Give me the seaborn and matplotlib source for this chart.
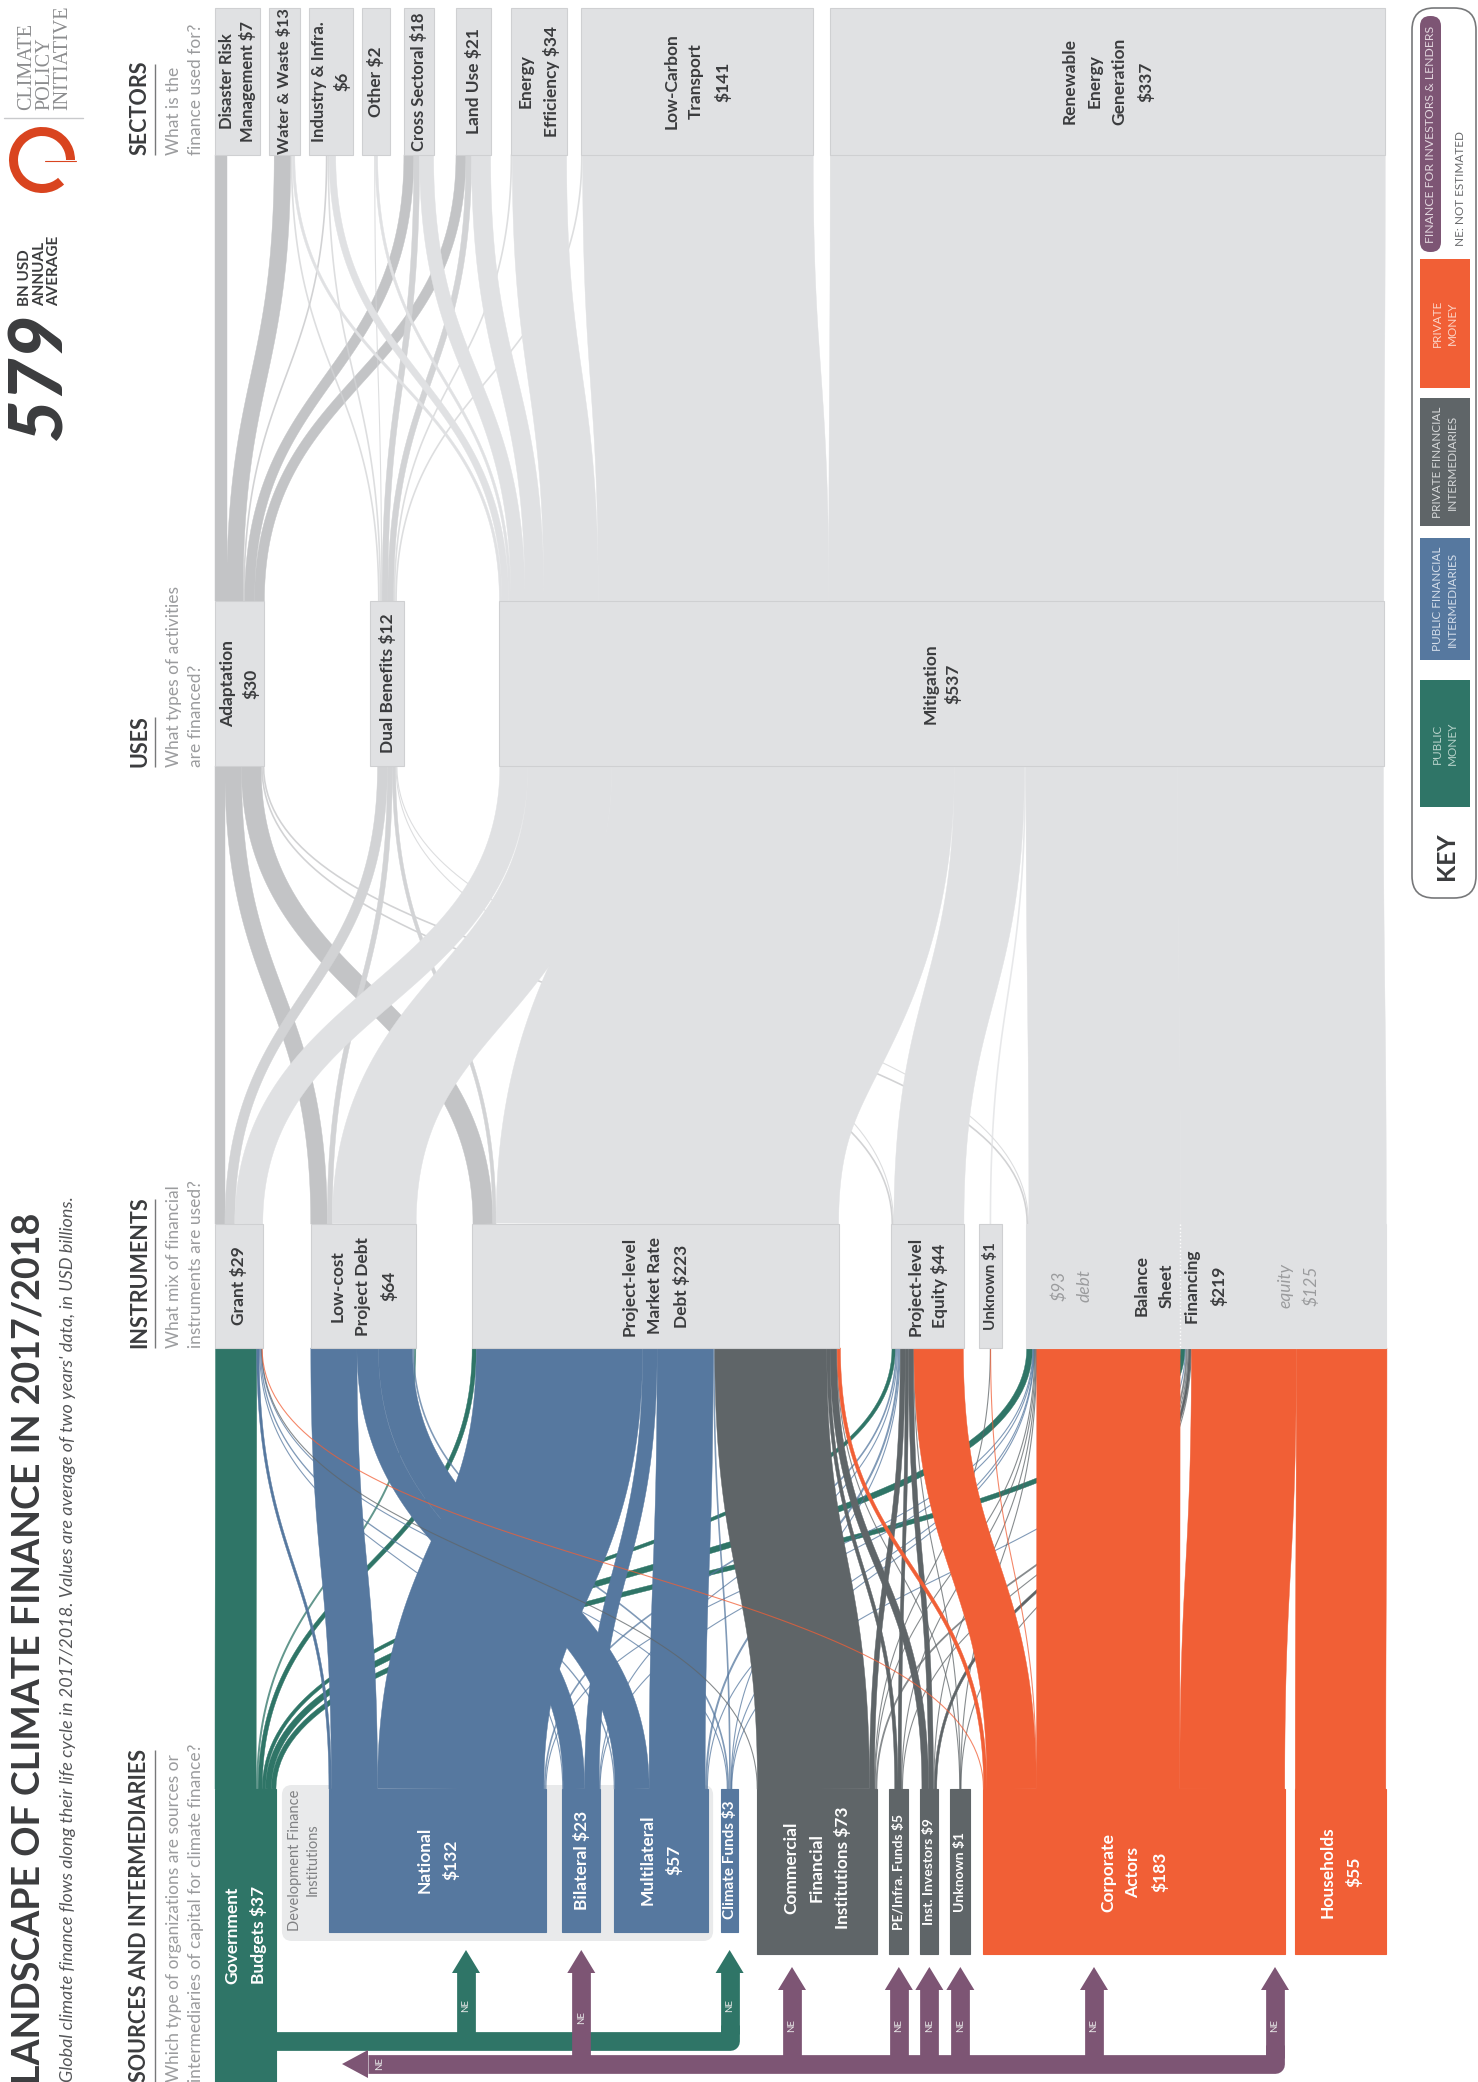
import numpy as np
import pandas as pd
import matplotlib
matplotlib.use("Agg")
import matplotlib.pyplot as plt
from matplotlib.patches import FancyBboxPatch, Rectangle, Wedge, Polygon
import seaborn as sns

# --- data, USD bn ---
SOURCES = ['Gov', 'National', 'Bilateral', 'Multilateral', 'ClimateFunds', 'Commercial',
           'PE', 'Inst', 'UnknownSrc', 'Corporate', 'Households']
SOURCE_VALUES = [37, 132, 23, 57, 3, 73, 5, 9, 1, 183, 55]

INSTRUMENTS = ['Grant', 'LowCost', 'Market', 'Equity', 'UnknownIns', 'BalDebt', 'BalEq']
INSTRUMENT_VALUES = [29, 64, 223, 44, 1, 93.5, 125]

USES = ['Adaptation', 'Dual', 'Mitigation']
USE_VALUES = [30, 12, 537]

SECTORS = ['DRM', 'Water', 'Industry', 'Other', 'Cross', 'Land', 'EE', 'Transport', 'Renewable']
SECTOR_VALUES = [7, 13, 6, 2, 18, 21, 34, 141, 337]

# source -> instrument, same order as INSTRUMENTS
GOV_TO = [25, 1.2, 2.5, 2, 0, 3.5, 2.8]
NATIONAL_TO = [1.5, 28, 101, 1, 0, 0.5, 0]
BILATERAL_TO = [0.5, 13, 8.8, 0.5, 0, 0.2, 0]
MULTILATERAL_TO = [0.8, 20.7, 34, 1.2, 0, 0.3, 0]
CLIMATE_FUNDS_TO = [0.2, 1, 1, 0.3, 0, 0.1, 0.4]
COMMERCIAL_TO = [0.2, 0, 68, 3, 0.2, 0.5, 1.1]
PE_TO = [0, 0, 2, 2, 0, 0.4, 0.6]
INST_TO = [0, 0, 4, 3, 0, 0.5, 1.5]
UNKNOWN_TO = [0, 0, 0.3, 0.3, 0, 0.1, 0.3]
CORPORATE_TO = [0.2, 0, 2, 30, 0.1, 87, 63.7]
HOUSEHOLDS_TO = [0, 0, 0, 0, 0, 0, 55]

# use <- instrument, same order as INSTRUMENTS
ADAPTATION_FROM = [6, 10, 12, 1, 0, 1, 0]
DUAL_FROM = [6, 3, 2, 0.5, 0, 0.5, 0]
MITIGATION_FROM = [17, 51, 208, 42.5, 1, 92, 125]

# use -> sector, same order as SECTORS
ADAPTATION_TO = [7, 10, 1, 0, 6, 6, 0, 0, 0]
DUAL_TO = [0, 1, 1, 0.5, 3.5, 3.5, 1, 1, 0]
MITIGATION_TO = [0, 1.5, 4, 1.5, 8.5, 11.5, 33, 140, 337]

NE_GREEN = ['National', 'ClimateFunds']
NE_PURPLE = ['Bilateral', 'Commercial', 'PE', 'Inst', 'UnknownSrc', 'Corporate', 'Households']

SECTOR_LABELS = ['Disaster Risk\nManagement $7', 'Water & Waste $13', 'Industry & Infra.\n$6', 'Other $2',
                 'Cross Sectoral $18', 'Land Use $21', 'Energy\nEfficiency $34', 'Low-Carbon\nTransport\n$141',
                 'Renewable\nEnergy\nGeneration\n$337']
USE_LABELS = ['Adaptation\n$30', 'Dual Benefits $12', 'Mitigation\n$537']
INSTRUMENT_LABELS = ['Grant $29', 'Low-cost\nProject Debt\n$64', 'Project-level\nMarket Rate\nDebt $223',
                     'Project-level\nEquity $44', 'Unknown $1']
SOURCE_LABELS = ['Government\nBudgets $37', 'National\n$132', 'Bilateral $23', 'Multilateral\n$57',
                 'Climate Funds $3', 'Commercial\nFinancial\nInstitutions $73', 'PE/Infra. Funds $5',
                 'Inst. Investors $9', 'Unknown $1', 'Corporate\nActors\n$183', 'Households\n$55']
KEY_LABELS = ['PUBLIC\nMONEY', 'PUBLIC FINANCIAL\nINTERMEDIARIES', 'PRIVATE FINANCIAL\nINTERMEDIARIES',
              'PRIVATE\nMONEY']

# --- layout, px ---
SCALE = 1.647
LEFT = 215
SOURCE_GAPS = [0, 53, 16, 13.5, 13.5, 19, 12, 12, 12, 13, 10.5]
SOURCE_MIN = {'ClimateFunds': 17, 'PE': 19, 'Inst': 18, 'UnknownSrc': 20}
INSTR_GAPS = [0, 48, 56, 52, 15, 24.5, 0]
INSTR_MIN = {'UnknownIns': 23}
USE_GAPS = [0, 106, 95]
USE_MIN = {'Dual': 34}
SECTOR_GAPS = [0, 9, 9, 9.5, 13.5, 22, 20, 14.4, 17]
SECTOR_MIN = {'DRM': 45, 'Water': 31, 'Industry': 43.5, 'Other': 28, 'Cross': 30.5}
NE_X = {'National': 466, 'Commercial': 792, 'Corporate': 1094, 'Households': 1275}

GREEN = '#2f7567'
BLUE = '#56789f'
GRAY = '#5f6568'
ORANGE = '#f15f36'
PURPLE = '#7d5574'
BOX = '#e0e1e3'
BOX_EDGE = '#cfd0d2'
DARK = '#c3c4c6'
MID = '#d2d3d5'
INK = '#3b3c3e'
SOFT = '#9b9c9e'
SOURCE_COLORS = [GREEN, BLUE, BLUE, BLUE, BLUE, GRAY, GRAY, GRAY, GRAY, ORANGE, ORANGE]

Y_SRC_TOP, Y_INS_BOT, Y_INS_TOP, Y_USE_BOT, Y_USE_TOP, Y_SEC_BOT, Y_SEC_TOP = 1789, 1348, 1224, 766, 601, 155, 8


def place(names, values, gaps, mins):
    out, x = {}, LEFT
    for name, v, g in zip(names, values, gaps):
        x += g
        w = max(v * SCALE, mins.get(name, 0))
        out[name] = (x, w)
        x += w
    return out


def path(ax, xs, ys, color, width, zorder=4, **kw):
    line = pd.DataFrame({'x': xs, 'y': ys})
    sns.lineplot(data=line, x='x', y='y', color=color, linewidth=width, estimator=None, sort=False,
                 errorbar=None, legend=False, ax=ax, zorder=zorder, **kw)


def ribbon(ax, x0, x1, w, y0, y1, color, zorder):
    t = np.linspace(0, 1, 90)
    ym = (y0 + y1) / 2
    cx = (1 - t) ** 3 * x0 + 3 * (1 - t) ** 2 * t * x0 + 3 * (1 - t) * t ** 2 * x1 + t ** 3 * x1
    cy = (1 - t) ** 3 * y0 + 3 * (1 - t) ** 2 * t * ym + 3 * (1 - t) * t ** 2 * ym + t ** 3 * y1
    if w < 2.2:
        # hairline flows go through seaborn directly
        path(ax, cx, cy, color, max(w, 1.1) * 0.72, zorder=zorder, alpha=0.75)
        return
    dx, dy = np.gradient(cx), np.gradient(cy)
    n = np.hypot(dx, dy)
    nx, ny = -dy / n, dx / n
    pts = np.r_[np.c_[cx + nx * w / 2, cy + ny * w / 2], np.c_[cx - nx * w / 2, cy - ny * w / 2][::-1]]
    ax.add_patch(Polygon(pts, closed=True, facecolor=color, edgecolor=color, lw=0.3, zorder=zorder))


def draw_stage(ax, a_names, a_pos, b_names, b_pos, matrix, y0, y1, color_of, left_align=(), in_order=None):
    in_order = in_order or {}
    flows = [(i, j, matrix[i][j]) for i in range(len(a_names)) for j in range(len(b_names)) if matrix[i][j] > 0]
    a_off, b_off = {}, {}
    for i, name in enumerate(a_names):
        tot = sum(matrix[i]) * SCALE
        a_off[i] = a_pos[name][0] + (0 if name in left_align else max(a_pos[name][1] - tot, 0) / 2)
    for j, name in enumerate(b_names):
        tot = sum(row[j] for row in matrix) * SCALE
        b_off[j] = b_pos[name][0] + (0 if name in left_align else max(b_pos[name][1] - tot, 0) / 2)
    start_a, start_b = {}, {}
    for i, j, v in flows:
        start_a[(i, j)] = a_off[i]
        a_off[i] += v * SCALE
    for j, name in enumerate(b_names):
        for src in in_order.get(name, a_names):
            i = a_names.index(src)
            if matrix[i][j] > 0:
                start_b[(i, j)] = b_off[j]
                b_off[j] += matrix[i][j] * SCALE
    for k, (i, j, v) in enumerate(flows):
        w = v * SCALE
        color, z = color_of(i, j)
        ribbon(ax, start_a[(i, j)] + w / 2, start_b[(i, j)] + w / 2, w, y0, y1, color, z + k * 0.001)


def box(ax, pos, y0, y1, color=BOX, edge=BOX_EDGE):
    ax.add_patch(Rectangle((pos[0], y0), pos[1], y1 - y0, facecolor=color, edgecolor=edge, lw=0.8, zorder=5))


def label(ax, x, y, s, size=12.5, color=INK, weight='bold', ha='center', va='center', ma='center', ls=1.7, **kw):
    ax.text(x, y, s, rotation=90, ha=ha, va=va, fontsize=size, color=color, fontweight=weight,
            multialignment=ma, linespacing=ls, zorder=8, **kw)


def ne_arrow(ax, x, tip, base, trunk, color):
    path(ax, [x, x], [base - 1, trunk], color, 13.5, solid_capstyle='butt')
    ax.add_patch(Polygon([(x - 14, base), (x, tip), (x + 14, base)], closed=True, facecolor=color, lw=0, zorder=4))
    label(ax, x, (base + trunk) / 2 + 2, 'NE', size=7, color='#e8e8e8', weight='normal')


def heading(ax, title, desc, y_bot, y_top):
    label(ax, 140, y_bot, title, size=15.5, va='bottom')
    path(ax, [155, 155], [y_bot, y_top], '#77787a', 1.0, solid_capstyle='butt')
    label(ax, 185, y_bot, desc, size=12.5, color=SOFT, weight='normal', va='bottom', ma='left', ls=1.45)


def main():
    sns.set_theme(style='white')
    plt.rcParams['font.family'] = ['Lato', 'DejaVu Sans']

    fig = plt.figure(figsize=(14.78, 20.82), dpi=100)
    ax = fig.add_axes([0, 0, 1, 1])

    src_pos = place(SOURCES, SOURCE_VALUES, SOURCE_GAPS, SOURCE_MIN)
    ins_pos = place(INSTRUMENTS, INSTRUMENT_VALUES, INSTR_GAPS, INSTR_MIN)
    use_pos = place(USES, USE_VALUES, USE_GAPS, USE_MIN)
    sec_pos = place(SECTORS, SECTOR_VALUES, SECTOR_GAPS, SECTOR_MIN)
    centre = lambda p: p[0] + p[1] / 2

    # development finance backdrop
    dfi_l = src_pos['National'][0] - 47
    dfi_r = src_pos['ClimateFunds'][0] - 8
    ax.add_patch(FancyBboxPatch((dfi_l + 6, 1791), dfi_r - dfi_l - 12, 144, boxstyle='round,pad=6,rounding_size=10',
                                facecolor='#e9eaeb', edgecolor='none', zorder=1))
    label(ax, dfi_l + 22, 1860, 'Development Finance\nInstitutions', size=10.5, color='#808183', weight='normal', ls=1.3)

    # flows
    src_matrix = [GOV_TO, NATIONAL_TO, BILATERAL_TO, MULTILATERAL_TO, CLIMATE_FUNDS_TO, COMMERCIAL_TO,
                  PE_TO, INST_TO, UNKNOWN_TO, CORPORATE_TO, HOUSEHOLDS_TO]
    draw_stage(ax, SOURCES, src_pos, INSTRUMENTS, ins_pos, src_matrix, Y_SRC_TOP, Y_INS_BOT,
               lambda i, j: (SOURCE_COLORS[i], 2 + i * 0.1),
               in_order={'LowCost': ['National', 'Bilateral', 'Multilateral', 'ClimateFunds', 'Gov']})

    use_colors = [DARK, MID, BOX]
    use_matrix = np.array([ADAPTATION_FROM, DUAL_FROM, MITIGATION_FROM]).T.tolist()
    draw_stage(ax, INSTRUMENTS, ins_pos, USES, use_pos, use_matrix, Y_INS_TOP, Y_USE_BOT,
               lambda i, j: (use_colors[j], 2 + j * 0.1))

    upper = [ADAPTATION_TO, DUAL_TO, MITIGATION_TO]
    draw_stage(ax, USES, use_pos, SECTORS, sec_pos, upper, Y_USE_TOP, Y_SEC_BOT,
               lambda i, j: (use_colors[i], 2 + i * 0.1), left_align=('DRM',))

    # nodes
    src_bottom = {n: 1954 for n in SOURCES}
    src_bottom.update({'National': 1932, 'Bilateral': 1932, 'Multilateral': 1932, 'ClimateFunds': 1932, 'Gov': 2082})
    for name, col in zip(SOURCES, SOURCE_COLORS):
        box(ax, src_pos[name], Y_SRC_TOP, src_bottom[name], color=col, edge=col)
    for name in INSTRUMENTS[:5]:
        box(ax, ins_pos[name], Y_INS_TOP, Y_INS_BOT)
    for name in INSTRUMENTS[5:]:
        box(ax, ins_pos[name], Y_INS_TOP, Y_INS_BOT, edge=BOX)
    for name in USES:
        box(ax, use_pos[name], Y_USE_TOP, Y_USE_BOT)
    for name in SECTORS:
        box(ax, sec_pos[name], Y_SEC_TOP, Y_SEC_BOT)

    # node labels
    src_y = [1935, 1860, 1860, 1860, 1860, 1868, 1872, 1872, 1872, 1872, 1872]
    src_size = [12.5, 12.5, 12.5, 12.5, 11, 12.5, 10, 10, 10, 12.5, 12.5]
    for name, s, y, fs in zip(SOURCES, SOURCE_LABELS, src_y, src_size):
        label(ax, centre(src_pos[name]), y, s, size=fs, color='white')
    for name, s in zip(INSTRUMENTS, INSTRUMENT_LABELS):
        label(ax, centre(ins_pos[name]), (Y_INS_TOP + Y_INS_BOT) / 2, s, ls=1.7 if name != 'Equity' else 1.5,
              size=11 if name == 'UnknownIns' else 12.5)
    split = ins_pos['BalEq'][0]
    path(ax, [split, split], [Y_INS_TOP, Y_INS_BOT], 'white', 1.0, zorder=6, linestyle=':')
    mid = (Y_INS_TOP + Y_INS_BOT) / 2
    label(ax, split - 109, mid, '$93\ndebt', color=SOFT, weight='normal', style='italic')
    label(ax, split, mid, 'Balance\nSheet\nFinancing\n$219')
    label(ax, split + 118, mid, 'equity\n$125', color=SOFT, weight='normal', style='italic')
    for name, s in zip(USES, USE_LABELS):
        label(ax, centre(use_pos[name]), (Y_USE_TOP + Y_USE_BOT) / 2, s, ls=1.4)
    sec_size = [12, 11.8, 12, 12.5, 12, 12.5, 12.5, 12.5, 12.5]
    sec_ls = [1.35, 1.3, 1.4, 1.3, 1.3, 1.3, 1.7, 1.7, 1.7]
    for name, s, fs, ls in zip(SECTORS, SECTOR_LABELS, sec_size, sec_ls):
        label(ax, centre(sec_pos[name]), (Y_SEC_TOP + Y_SEC_BOT) / 2, s, size=fs, ls=ls)

    # not-estimated pipes
    gov_right = sum(src_pos['Gov'])
    green_end = centre(src_pos['ClimateFunds'])
    path(ax, [gov_right, green_end, green_end], [2041, 2041, 2025], GREEN, 13.5, solid_joinstyle='round',
         solid_capstyle='butt')
    for name in NE_GREEN:
        ne_arrow(ax, NE_X.get(name, centre(src_pos[name])), 1950, 1973, 2034, GREEN)
    purple_end = NE_X['Households']
    path(ax, [368, purple_end, purple_end], [2064, 2064, 2045], PURPLE, 13.5, solid_joinstyle='round',
         solid_capstyle='butt')
    ax.add_patch(Polygon([(368, 2050), (342, 2064), (368, 2078)], closed=True, facecolor=PURPLE, lw=0, zorder=4))
    label(ax, 380, 2064, 'NE', size=7, color='#e8e8e8', weight='normal')
    for name in NE_PURPLE:
        bilateral = name == 'Bilateral'
        ne_arrow(ax, NE_X.get(name, centre(src_pos[name])), 1950 if bilateral else 1967,
                 1973 if bilateral else 1990, 2058, PURPLE)

    # headings
    label(ax, 29, 2084, 'LANDSCAPE OF CLIMATE FINANCE IN 2017/2018', size=27, va='bottom')
    label(ax, 68, 2082, "Global climate finance flows along their life cycle in 2017/2018. Values are average of "
          "two years' data, in USD billions.", size=13, color='#555658', weight='normal', style='italic', va='bottom')
    heading(ax, 'SOURCES AND INTERMEDIARIES', 'Which type of organizations are sources or\n'
            'intermediaries of capital for climate finance?', 2082, 1750)
    heading(ax, 'INSTRUMENTS', 'What mix of financial\ninstruments are used?', 1348, 1199)
    heading(ax, 'USES', 'What types of activities\nare financed?', 767, 717)
    heading(ax, 'SECTORS', 'What is the\nfinance used for?', 155, 64)

    # total and logo
    label(ax, 40, 440, '579', size=53, weight='black', style='italic', va='bottom')
    label(ax, 40, 306, 'BN USD\nANNUAL\nAVERAGE', size=11, va='bottom', ma='left', ls=1.05)
    ax.add_patch(Wedge((42, 160), 33, 48, 360, width=9, facecolor='#d9441f', edgecolor='none', zorder=4))
    path(ax, [45, 76], [161, 161], '#d9441f', 0.8)
    path(ax, [4, 83], [118, 118], '#c9cacc', 1.0)
    label(ax, 45, 110, 'CLIMATE\nPOLICY\nINITIATIVE', size=14.5, color='#8c8d8f', weight='normal', va='bottom', ma='left',
          ls=0.95, family='Liberation Serif')

    # key
    ax.add_patch(FancyBboxPatch((1434, 30), 20, 846, boxstyle='round,pad=22,rounding_size=22', facecolor='white',
                                edgecolor='#77787a', lw=1.2, zorder=1))
    key_spans = [(680, 807), (538, 660), (398, 526), (259, 388)]
    key_colors = [GREEN, BLUE, GRAY, ORANGE]
    key_ink = ['#b7d2ca', '#d5deea', '#d6d8d9', '#fbd5c8']
    for (y0, y1), col, s, ink in zip(key_spans, key_colors, KEY_LABELS, key_ink):
        ax.add_patch(Rectangle((1420, y0), 50, y1 - y0, facecolor=col, edgecolor='none', zorder=3))
        label(ax, 1445, (y0 + y1) / 2, s, size=8.5, color=ink, weight='normal', ls=1.4)
    ax.add_patch(FancyBboxPatch((1430, 26), 1, 216, boxstyle='round,pad=10,rounding_size=10', facecolor=PURPLE,
                                edgecolor='none', zorder=3))
    label(ax, 1431, 134, 'FINANCE FOR INVESTORS & LENDERS', size=8.8, color='#e2d6de', weight='normal')
    label(ax, 1460, 189, 'NE: NOT ESTIMATED', size=8.5, color='#67686a', weight='normal')
    label(ax, 1447, 856, 'KEY', size=18)

    ax.set_xlim(0, 1478)
    ax.set_ylim(2082, 0)
    ax.set_axis_off()
    fig.savefig('out.png', dpi=100)


if __name__ == '__main__':
    main()
